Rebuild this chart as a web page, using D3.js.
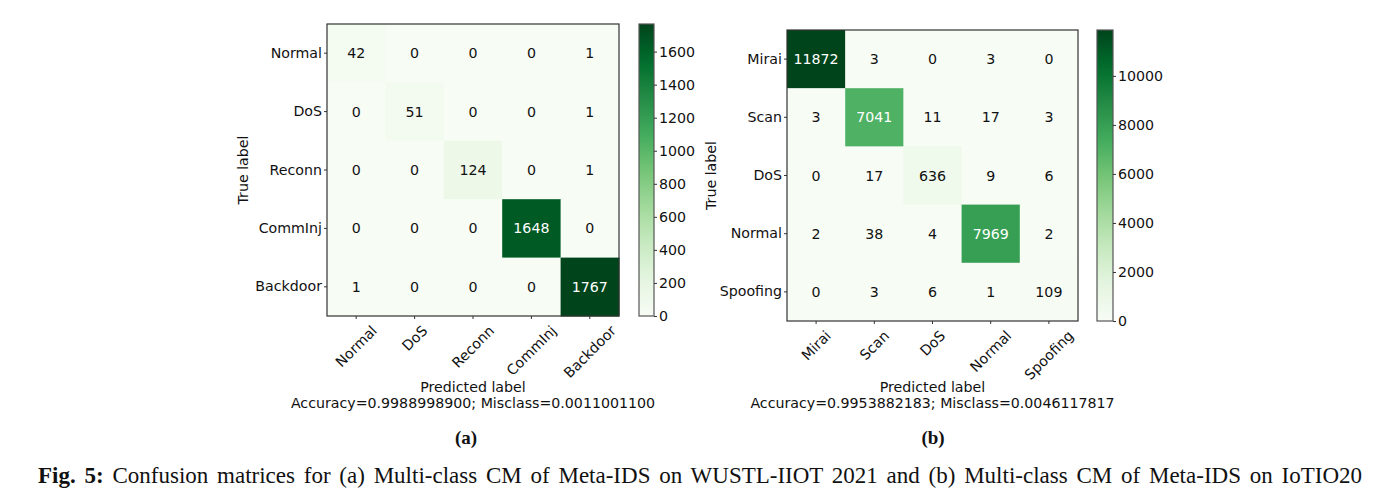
<!DOCTYPE html>
<html>
<head>
<meta charset="utf-8">
<script src="https://cdn.jsdelivr.net/npm/d3@7"></script>
<style>
  html, body { margin: 0; padding: 0; background: #fff; }
  svg { display: block; font-family: "DejaVu Sans", sans-serif; }
</style>
</head>
<body>
<svg id="chart" width="1377" height="497"></svg>
<script>
// ---------- data ----------
const classesA = ["Normal", "DoS", "Reconn", "CommInj", "Backdoor"];
const valuesA = [
  [42, 0, 0, 0, 1],
  [0, 51, 0, 0, 1],
  [0, 0, 124, 0, 1],
  [0, 0, 0, 1648, 0],
  [1, 0, 0, 0, 1767]
];
const colorbarTicksA = [0, 200, 400, 600, 800, 1000, 1200, 1400, 1600];
const summaryA = "Accuracy=0.9988998900; Misclass=0.0011001100";
const subLabelA = "(a)";

const classesB = ["Mirai", "Scan", "DoS", "Normal", "Spoofing"];
const valuesB = [
  [11872, 3, 0, 3, 0],
  [3, 7041, 11, 17, 3],
  [0, 17, 636, 9, 6],
  [2, 38, 4, 7969, 2],
  [0, 3, 6, 1, 109]
];
const colorbarTicksB = [0, 2000, 4000, 6000, 8000, 10000];
const summaryB = "Accuracy=0.9953882183; Misclass=0.0046117817";
const subLabelB = "(b)";

const captionBold = "Fig. 5:";
const captionRest = " Confusion matrices for (a) Multi-class CM of Meta-IDS on WUSTL-IIOT 2021 and (b) Multi-class CM of Meta-IDS on IoTIO20";

const greens = ["#f7fcf5","#e5f5e0","#c7e9c0","#a1d99b","#74c476","#41ab5d","#238b45","#006d2c","#00441b"];

const SANS = '"DejaVu Sans", sans-serif';
const SERIF = '"Liberation Serif", "Times New Roman", serif';

const svg = d3.select("#chart");

function drawPanel(cfg) {
  const { classes, values, cbTicks, summary, sub, x0, x1, y0, y1, cbx0, cbx1, trueX, subX } = cfg;
  const g = svg.append("g");
  const vmax = d3.max(values.flat());
  const color = d3.scaleLinear()
    .domain(greens.map((_, i) => vmax * i / (greens.length - 1)))
    .range(greens)
    .interpolate(d3.interpolateRgb)
    .clamp(true);

  const x = d3.scaleBand().domain(classes).range([x0, x1]).padding(0);
  const y = d3.scaleBand().domain(classes).range([y0, y1]).padding(0);

  const cells = [];
  values.forEach((row, i) => row.forEach((v, j) => cells.push({ r: classes[i], c: classes[j], v })));

  g.selectAll("rect.cell").data(cells).join("rect")
    .attr("class", "cell")
    .attr("x", d => x(d.c)).attr("y", d => y(d.r))
    .attr("width", x.bandwidth() + 0.5).attr("height", y.bandwidth() + 0.5)
    .attr("fill", d => color(d.v));

  g.selectAll("text.val").data(cells).join("text")
    .attr("class", "val")
    .attr("x", d => x(d.c) + x.bandwidth() / 2)
    .attr("y", d => y(d.r) + y.bandwidth() / 2)
    .attr("text-anchor", "middle")
    .attr("dominant-baseline", "central")
    .style("font-family", SANS)
    .attr("font-size", 14.2)
    .attr("fill", d => d.v > vmax / 2 ? "#ffffff" : "#111111")
    .text(d => d.v);

  // frame
  g.append("rect")
    .attr("x", x0).attr("y", y0).attr("width", x1 - x0).attr("height", y1 - y0)
    .attr("fill", "none").attr("stroke", "#333").attr("stroke-width", 1.2);

  // y axis
  const yAxis = g.append("g").attr("transform", `translate(${x0},0)`)
    .call(d3.axisLeft(y).tickSize(3).tickSizeOuter(0).tickPadding(2));
  yAxis.select(".domain").remove();
  yAxis.selectAll(".tick line").attr("stroke", "#333");
  yAxis.selectAll(".tick text").attr("font-size", 14.2).attr("fill", "#111")
    .style("font-family", SANS);

  // x axis
  const xAxis = g.append("g").attr("transform", `translate(0,${y1})`)
    .call(d3.axisBottom(x).tickSize(3).tickSizeOuter(0));
  xAxis.select(".domain").remove();
  xAxis.selectAll(".tick line").attr("stroke", "#333");
  xAxis.selectAll(".tick text")
    .attr("font-size", 14.2).attr("fill", "#111")
    .style("font-family", SANS)
    .attr("text-anchor", "middle")
    .attr("dominant-baseline", "central")
    .attr("y", 0).attr("dy", null)
    .each(function () {
      const w = this.getComputedTextLength();
      const h = 13;
      const H = (w + h) / Math.SQRT2;
      d3.select(this).attr("transform", `translate(0,${7.5 + H / 2}) rotate(-45)`);
    });

  // axis titles
  g.append("text")
    .attr("transform", `translate(${trueX},${(y0 + y1) / 2}) rotate(-90)`)
    .attr("text-anchor", "middle").attr("dominant-baseline", "central")
    .style("font-family", SANS)
    .attr("font-size", 14.2).attr("fill", "#111")
    .text("True label");
  g.append("text")
    .attr("x", (x0 + x1) / 2).attr("y", 387)
    .attr("text-anchor", "middle").attr("dominant-baseline", "central")
    .style("font-family", SANS)
    .attr("font-size", 14.2).attr("fill", "#111")
    .text("Predicted label");
  g.append("text")
    .attr("x", (x0 + x1) / 2).attr("y", 402.5)
    .attr("text-anchor", "middle").attr("dominant-baseline", "central")
    .style("font-family", SANS)
    .attr("font-size", 14.2).attr("fill", "#111")
    .text(summary);

  // colorbar
  const cbScale = d3.scaleLinear().domain([0, vmax]).range([y1, y0]);
  const gradId = "grad-" + sub.replace(/\W/g, "");
  const grad = svg.append("defs").append("linearGradient")
    .attr("id", gradId).attr("x1", 0).attr("y1", 1).attr("x2", 0).attr("y2", 0);
  grad.selectAll("stop").data(d3.range(0, 1.0001, 0.05)).join("stop")
    .attr("offset", d => d)
    .attr("stop-color", d => color(d * vmax));
  g.append("rect")
    .attr("x", cbx0).attr("y", y0).attr("width", cbx1 - cbx0).attr("height", y1 - y0)
    .attr("fill", `url(#${gradId})`).attr("stroke", "#555").attr("stroke-width", 1.2);
  const cbAxis = g.append("g").attr("transform", `translate(${cbx1},0)`)
    .call(d3.axisRight(cbScale).tickValues(cbTicks).tickSize(3).tickSizeOuter(0).tickPadding(2).tickFormat(d3.format("d")));
  cbAxis.select(".domain").remove();
  cbAxis.selectAll(".tick line").attr("stroke", "#333");
  cbAxis.selectAll(".tick text").attr("font-size", 14.2).attr("fill", "#111")
    .style("font-family", SANS);

  // sub label
  svg.append("text")
    .attr("x", subX).attr("y", 444)
    .attr("text-anchor", "middle")
    .style("font-family", SERIF)
    .attr("font-weight", "bold").attr("font-size", 19).attr("fill", "#111")
    .text(sub);
}

drawPanel({
  classes: classesA, values: valuesA, cbTicks: colorbarTicksA, summary: summaryA, sub: subLabelA,
  x0: 327, x1: 619, y0: 24, y1: 316, cbx0: 639, cbx1: 654, trueX: 243, subX: 466
});
drawPanel({
  classes: classesB, values: valuesB, cbTicks: colorbarTicksB, summary: summaryB, sub: subLabelB,
  x0: 787, x1: 1078, y0: 30, y1: 321, cbx0: 1097, cbx1: 1113, trueX: 711, subX: 933
});

// caption, justified via word spacing to span the same width as the reference
const capX0 = 38, capX1 = 1362;
const cap = svg.append("text")
  .attr("x", capX0).attr("y", 483)
  .style("font-family", SERIF)
  .attr("font-size", 23).attr("fill", "#111");
cap.append("tspan").attr("font-weight", "bold").text(captionBold);
cap.append("tspan").text(captionRest);
const natural = cap.node().getComputedTextLength();
const spaces = (captionBold + captionRest).split(" ").length - 1;
const extra = Math.max(0, (capX1 - capX0 - natural) / spaces);
cap.style("word-spacing", extra + "px");
</script>
</body>
</html>
